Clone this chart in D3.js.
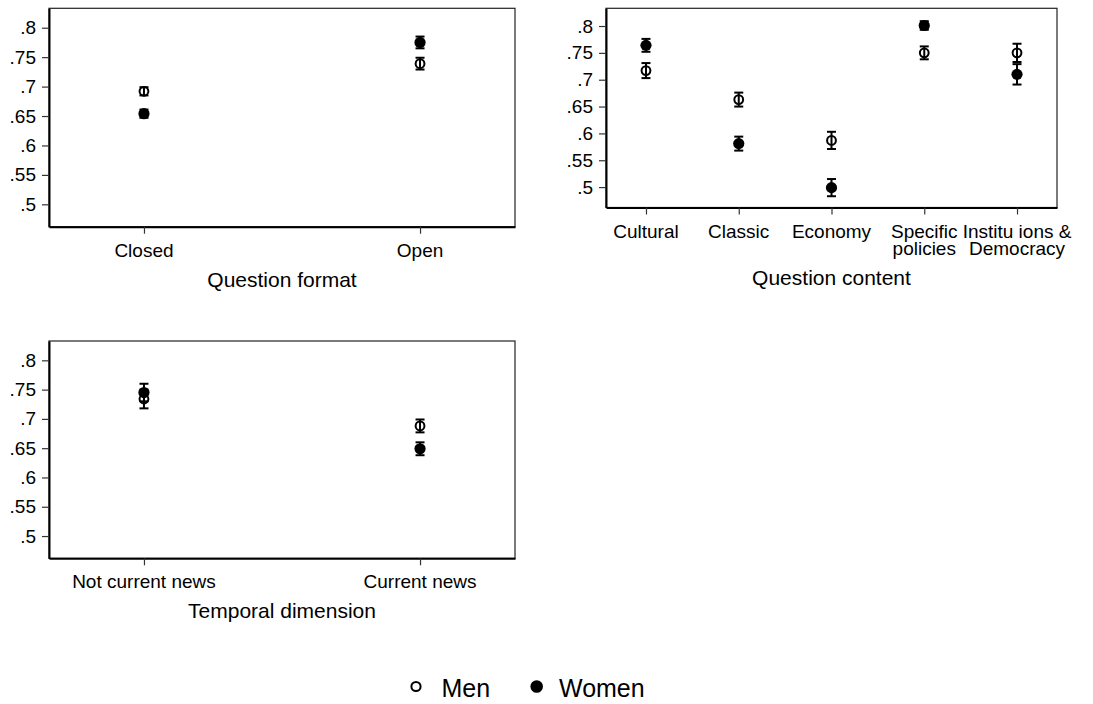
<!DOCTYPE html>
<html>
<head>
<meta charset="utf-8">
<script src="https://cdn.jsdelivr.net/npm/d3@7"></script>
<style>
  body { margin: 0; background: #fff; }
  text { font-family: Arial, "Liberation Sans", Helvetica, sans-serif; fill: #000; }
</style>
</head>
<body>
<svg id="chart" width="1093" height="704"></svg>
<script>
// ---- shared y axis ----
const yTicks = [0.5, 0.55, 0.6, 0.65, 0.7, 0.75, 0.8];
const yTickLabels = [".5", ".55", ".6", ".65", ".7", ".75", ".8"];
const yDomain = [0.462, 0.833];

// ---- panel 1: question format ----
const formatCategories = [["Closed"], ["Open"]];
const formatMen = [0.692, 0.739];
const formatMenErr = [0.007, 0.010];
const formatWomen = [0.654, 0.775];
const formatWomenErr = [0.007, 0.010];

// ---- panel 2: question content ----
const contentCategories = [["Cultural"], ["Classic"], ["Economy"], ["Specific", "policies"], ["Institu ions &", "Democracy"]];
const contentMen = [0.717, 0.663, 0.587, 0.750, 0.750];
const contentMenErr = [0.014, 0.013, 0.016, 0.012, 0.017];
const contentWomen = [0.764, 0.581, 0.499, 0.801, 0.710];
const contentWomenErr = [0.012, 0.013, 0.016, 0.008, 0.019];

// ---- panel 3: temporal dimension ----
const temporalCategories = [["Not current news"], ["Current news"]];
const temporalMen = [0.734, 0.688];
const temporalMenErr = [0.016, 0.011];
const temporalWomen = [0.745, 0.649];
const temporalWomenErr = [0.015, 0.011];

// ---- legend ----
const seriesNames = ["Men", "Women"];

const panels = [
  { title: "Question format", cats: formatCategories, men: formatMen, menErr: formatMenErr,
    women: formatWomen, womenErr: formatWomenErr,
    left: 49, right: 515, top: 8.3, bottom: 226.7, pad: 0.344 },
  { title: "Question content", cats: contentCategories, men: contentMen, menErr: contentMenErr,
    women: contentWomen, womenErr: contentWomenErr,
    left: 606, right: 1057, top: 8.3, bottom: 207.5, pad: 0.431 },
  { title: "Temporal dimension", cats: temporalCategories, men: temporalMen, menErr: temporalMenErr,
    women: temporalWomen, womenErr: temporalWomenErr,
    left: 49, right: 515, top: 341, bottom: 558.3, pad: 0.344 }
];

const svg = d3.select("#chart");

function drawPanel(p) {
  const g = svg.append("g");
  const keys = p.cats.map(c => c.join(" "));
  const x = d3.scalePoint().domain(keys).range([p.left, p.right]).padding(p.pad);
  const y = d3.scaleLinear().domain(yDomain).range([p.bottom, p.top]);

  // plot region outline
  g.append("rect")
    .attr("x", p.left).attr("y", p.top)
    .attr("width", p.right - p.left).attr("height", p.bottom - p.top)
    .attr("fill", "none").attr("stroke", "#222").attr("stroke-width", 1.2);

  // y axis
  const ya = g.append("g")
    .attr("transform", `translate(${p.left},0)`)
    .call(d3.axisLeft(y).tickValues(yTicks)
      .tickFormat((d, i) => yTickLabels[i]).tickSize(7).tickPadding(6).tickSizeOuter(0));
  ya.select(".domain").attr("stroke", "#000").attr("stroke-width", 2);
  ya.selectAll(".tick line").attr("stroke", "#333").attr("stroke-width", 1.2);
  ya.selectAll(".tick text").attr("font-size", 19).attr("font-family", "Arial, 'Liberation Sans', sans-serif").attr("fill", "#000");

  // x axis
  const xa = g.append("g")
    .attr("transform", `translate(0,${p.bottom})`)
    .call(d3.axisBottom(x).tickFormat("").tickSize(7).tickSizeOuter(0));
  xa.select(".domain").attr("stroke", "#000").attr("stroke-width", 2);
  xa.selectAll(".tick line").attr("stroke", "#333").attr("stroke-width", 1.2);

  // category labels (one or two lines)
  let maxLines = 1;
  p.cats.forEach((lines, i) => {
    maxLines = Math.max(maxLines, lines.length);
    lines.forEach((ln, j) => {
      g.append("text")
        .attr("x", x(keys[i])).attr("y", p.bottom + 30 + j * 17.5)
        .attr("text-anchor", "middle").attr("font-size", 19)
        .text(ln);
    });
  });

  // axis title
  g.append("text")
    .attr("x", (p.left + p.right) / 2)
    .attr("y", p.bottom + 30 + (maxLines - 1) * 17.5 + 30)
    .attr("text-anchor", "middle").attr("font-size", 21)
    .text(p.title);

  const series = [
    { vals: p.women, errs: p.womenErr, filled: true },
    { vals: p.men, errs: p.menErr, filled: false }
  ];

  // confidence interval bars
  series.forEach(s => {
    keys.forEach((k, i) => {
      const cx = x(k);
      const lo = y(s.vals[i] - s.errs[i]);
      const hi = y(s.vals[i] + s.errs[i]);
      const eb = g.append("g").attr("stroke", "#000").attr("stroke-width", 2);
      eb.append("line").attr("x1", cx).attr("x2", cx).attr("y1", lo).attr("y2", hi);
      eb.append("line").attr("x1", cx - 4.5).attr("x2", cx + 4.5).attr("y1", lo).attr("y2", lo);
      eb.append("line").attr("x1", cx - 4.5).attr("x2", cx + 4.5).attr("y1", hi).attr("y2", hi);
    });
  });

  // point estimates
  series.forEach(s => {
    keys.forEach((k, i) => {
      g.append("circle")
        .attr("cx", x(k)).attr("cy", y(s.vals[i]))
        .attr("r", s.filled ? 5.6 : 4.4)
        .attr("fill", s.filled ? "#000" : "none")
        .attr("stroke", "#000").attr("stroke-width", s.filled ? 0 : 2);
    });
  });
}

panels.forEach(drawPanel);

// legend
const legend = svg.append("g");
const legendItems = [
  { name: seriesNames[0], filled: false, cx: 416, tx: 441.5 },
  { name: seriesNames[1], filled: true, cx: 536.7, tx: 559 }
];
legendItems.forEach(it => {
  legend.append("circle")
    .attr("cx", it.cx).attr("cy", 686.5)
    .attr("r", it.filled ? 6.3 : 4.6)
    .attr("fill", it.filled ? "#000" : "none")
    .attr("stroke", "#000").attr("stroke-width", it.filled ? 0 : 2);
  legend.append("text")
    .attr("x", it.tx).attr("y", 696.5)
    .attr("font-size", 25)
    .text(it.name);
});
</script>
</body>
</html>
